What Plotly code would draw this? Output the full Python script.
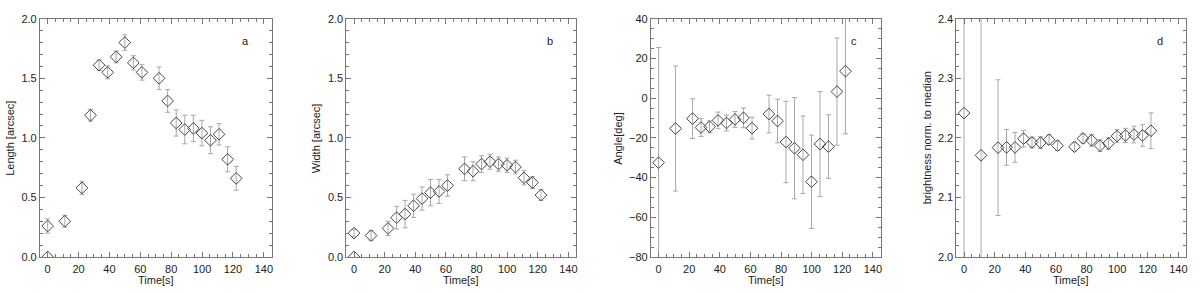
import plotly.graph_objects as go

time_s = [0, 11.1, 22.2, 27.75, 33.3, 38.85, 44.4, 49.95, 55.5, 61.05,
          72.15, 77.7, 83.25, 88.8, 94.35, 99.9, 105.45, 111.0, 116.55, 122.1]

length = [0.26, 0.30, 0.58, 1.19, 1.61, 1.55, 1.68, 1.80, 1.63, 1.55,
          1.50, 1.31, 1.125, 1.07, 1.08, 1.04, 0.98, 1.03, 0.82, 0.66]
length_err = [0.06, 0.05, 0.055, 0.05, 0.045, 0.055, 0.05, 0.065, 0.06, 0.065,
              0.095, 0.095, 0.11, 0.12, 0.11, 0.107, 0.113, 0.09, 0.105, 0.1]

width = [0.20, 0.18, 0.24, 0.33, 0.36, 0.43, 0.49, 0.54, 0.55, 0.60,
         0.74, 0.72, 0.78, 0.80, 0.78, 0.77, 0.755, 0.665, 0.625, 0.52]
width_err = [0.03, 0.04, 0.06, 0.095, 0.115, 0.097, 0.097, 0.11, 0.1, 0.09,
             0.1, 0.08, 0.07, 0.063, 0.06, 0.06, 0.057, 0.06, 0.05, 0.045]

angle = [-32.5, -15.3, -10.3, -14.8, -14.4, -11.2, -12.5, -10.7, -9.9, -15.1,
         -8.0, -11.5, -22.1, -25.2, -28.5, -42.1, -23.1, -24.4, 3.3, 13.6]
angle_err = [58, 31.5, 10, 4.5, 3, 4.2, 4, 4, 5, 5.5,
             9.5, 11, 20.5, 25.5, 19.5, 23.5, 26.5, 16, 27, 31.6]

brightness = [2.2415, 2.1707, 2.1836, 2.184, 2.184, 2.1987, 2.1923, 2.192, 2.197, 2.187,
              2.185, 2.199, 2.196, 2.187, 2.1906, 2.203, 2.204, 2.2056, 2.204, 2.212]
brightness_err = [0.3, 0.3, 0.114, 0.03, 0.025, 0.014, 0.009, 0.01, 0.008, 0.008,
                  0.007, 0.008, 0.01, 0.01, 0.01, 0.011, 0.012, 0.014, 0.018, 0.03]

# extra zero-valued sample at t=0 seen in panels a and b
zero_time = [0]
zero_value = [0.0]

y_titles = ["Length [arcsec]", "Width [arcsec]", "Angle[deg]", "brightness norm. to median"]
panel_labels = ["a", "b", "c", "d"]
y_ranges = [[0, 2.0], [0, 2.0], [-80, 40], [2.0, 2.4]]
y_dticks = [0.5, 0.5, 20, 0.1]
y_minor = [0.1, 0.1, 5, 0.02]
y_formats = [".1f", ".1f", "d", ".1f"]
x_ticks = [0, 20, 40, 60, 80, 100, 120, 140]

W, H = 1200, 293
lefts = [40, 347, 652, 958]
rights = [272, 577, 882, 1188]
top_px, bot_px = 13.3, 261.7
title_x_px = [10, 316, 619, 928]
label_x_px = [245.5, 551, 855, 1162]

series = [(length, length_err), (width, width_err), (angle, angle_err), (brightness, brightness_err)]

fig = go.Figure()
axis_col = "#777777"
text_col = "#222222"
font_fam = "Liberation Sans, Arial, Helvetica, sans-serif"

for i in range(4):
    xa = "x" if i == 0 else f"x{i+1}"
    ya = "y" if i == 0 else f"y{i+1}"
    vals, errs = series[i]
    fig.add_trace(go.Scatter(
        x=time_s, y=vals, xaxis=xa, yaxis=ya, mode="markers",
        marker=dict(symbol="diamond-open", size=9, color="#444444", line=dict(width=1)),
        error_y=dict(type="data", array=errs, visible=True, color="#a8a8a8", thickness=1, width=2.5),
        showlegend=False, hoverinfo="skip",
    ))
    if i < 2:
        fig.add_trace(go.Scatter(
            x=zero_time, y=zero_value, xaxis=xa, yaxis=ya, mode="markers",
            marker=dict(symbol="diamond-open", size=9, color="#444444", line=dict(width=1)),
            showlegend=False, hoverinfo="skip",
        ))
    xkey = "xaxis" if i == 0 else f"xaxis{i+1}"
    ykey = "yaxis" if i == 0 else f"yaxis{i+1}"
    common = dict(showline=True, linecolor=axis_col, linewidth=1, mirror="ticks",
                  ticks="inside", ticklen=5, tickcolor=axis_col, showgrid=False, zeroline=False,
                  tickfont=dict(size=11, color=text_col, family=font_fam))
    fig.layout[xkey] = dict(
        domain=[lefts[i] / W, rights[i] / W], anchor=ya, range=[-5, 145],
        tickvals=x_ticks, ticklabelstandoff=2,
        minor=dict(dtick=5, tick0=0, ticks="inside", ticklen=3, tickcolor=axis_col),
        **common)
    fig.layout[ykey] = dict(
        domain=[1 - bot_px / H, 1 - top_px / H], anchor=xa, range=y_ranges[i],
        dtick=y_dticks[i], tick0=y_ranges[i][0], tickformat=y_formats[i],
        minor=dict(dtick=y_minor[i], ticks="inside", ticklen=3, tickcolor=axis_col),
        **common)
    fig.add_annotation(text=y_titles[i], xref="paper", yref="paper",
                       x=title_x_px[i] / W, y=1 - (top_px + bot_px) / 2 / H,
                       textangle=-90, showarrow=False, xanchor="center", yanchor="middle",
                       font=dict(size=11, color=text_col, family=font_fam))
    fig.add_annotation(text="Time[s]", xref="paper", yref="paper",
                       x=(lefts[i] + rights[i]) / 2 / W, y=1 - 285.5 / H,
                       showarrow=False, xanchor="center", yanchor="middle",
                       font=dict(size=11, color=text_col, family=font_fam))
    fig.add_annotation(text=panel_labels[i], xref="paper", yref="paper",
                       x=label_x_px[i] / W, y=1 - 36.5 / H,
                       showarrow=False, xanchor="center", yanchor="middle",
                       font=dict(size=11, color=text_col, family=font_fam))

fig.update_layout(width=W, height=H, margin=dict(l=0, r=0, t=0, b=0),
                  paper_bgcolor="white", plot_bgcolor="white",
                  font=dict(family=font_fam, size=11, color=text_col))

fig.write_html("out.html", config={"displayModeBar": False},
               post_script="document.body.style.margin='0';document.body.style.overflow='hidden';")
